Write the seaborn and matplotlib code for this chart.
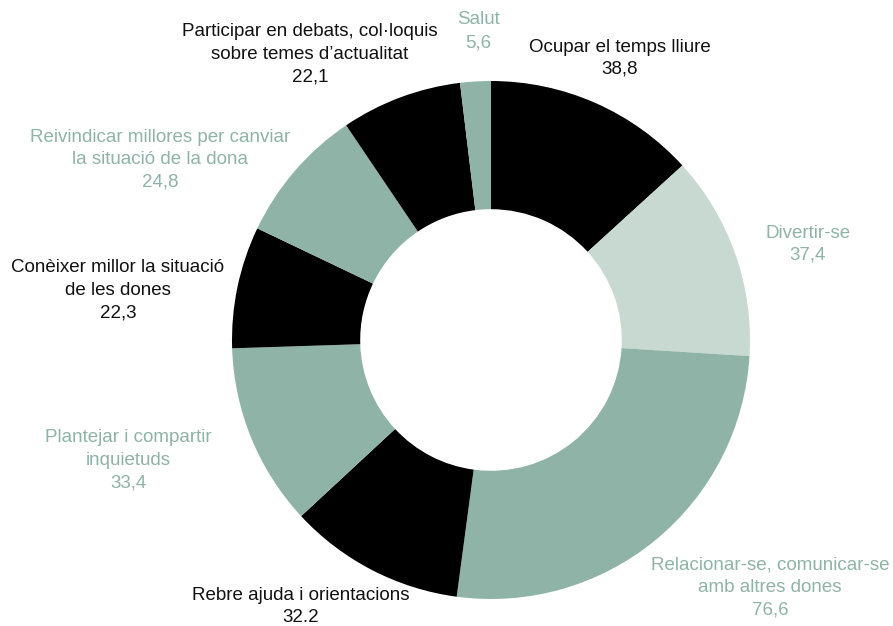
import matplotlib
matplotlib.use("Agg")
import matplotlib.pyplot as plt
import seaborn as sns

sns.set_theme(style="white")
plt.rcParams['font.family'] = ['Liberation Sans', 'DejaVu Sans']

categories = ["Ocupar el temps lliure", "Divertir-se",
              "Relacionar-se, comunicar-se\namb altres dones",
              "Rebre ajuda i orientacions", "Plantejar i compartir\ninquietuds",
              "Conèixer millor la situació\nde les dones",
              "Reivindicar millores per canviar\nla situació de la dona",
              "Participar en debats, col·loquis\nsobre temes d’actualitat", "Salut"]
values = [38.8, 37.4, 76.6, 32.2, 33.4, 22.3, 24.8, 22.1, 5.6]
value_labels = ["38,8", "37,4", "76,6", "32.2", "33,4", "22,3", "24,8", "22,1", "5,6"]

BLACK = "#000000"
LIGHT = "#c7d9d1"
GREEN = "#8fb3a6"
slice_colors = [BLACK, LIGHT, GREEN, BLACK, GREEN, BLACK, GREEN, BLACK, GREEN]
text_colors = ["#111111", GREEN, GREEN, "#111111", GREEN, "#111111", GREEN, "#111111", GREEN]
# label anchor (x, top-line y) in pixel space
label_pos = [(620, 47), (808, 233), (770, 565), (301, 595), (128, 438),
             (118, 268), (160, 137), (310, 32), (478, 20)]

W, H = 893, 626
fig = plt.figure(figsize=(W / 100, H / 100), dpi=100)
ax = fig.add_axes([0, 0, 1, 1])

cx, cy, R = 491, H - 340, 259
ax.pie(values, colors=slice_colors, startangle=90, counterclock=False,
       center=(cx, cy), radius=R, frame=True,
       wedgeprops=dict(width=R * 0.495, edgecolor="none", linewidth=0))
ax.set_xlim(0, W)
ax.set_ylim(0, H)
ax.set_aspect("equal")
ax.axis("off")

lh = 22.5
for cat, val, col, (px, py) in zip(categories, value_labels, text_colors, label_pos):
    lines = cat.split("\n") + [val]
    for i, ln in enumerate(lines):
        ax.text(px, H - (py + i * lh), ln, ha="center", va="center",
                fontsize=13.5, color=col)

fig.savefig("out.png", dpi=100)
